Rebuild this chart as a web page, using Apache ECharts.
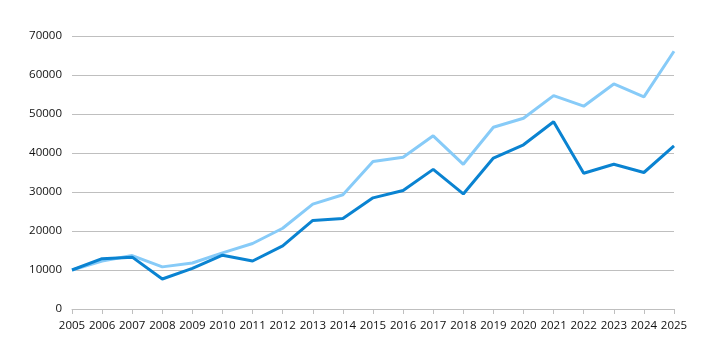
<!DOCTYPE html>
<html><head><meta charset="utf-8">
<script src="https://cdn.jsdelivr.net/npm/echarts@6/dist/echarts.min.js"></script>
<style>html,body{margin:0;padding:0;background:#fff}#c{width:711px;height:357px}</style>
</head><body><div id="c"></div>
<script>
const years = ['2005','2006','2007','2008','2009','2010','2011','2012','2013','2014','2015','2016','2017','2018','2019','2020','2021','2022','2023','2024','2025'];
const seriesDark = [10000,12900,13300,7700,10400,13800,12300,16200,22700,23200,28500,30400,35800,29500,38700,42100,48000,34800,37100,35000,41800];
const seriesLight = [10000,12300,13700,10800,11800,14400,16800,20700,26900,29300,37800,38900,44400,37100,46600,48900,54700,52000,57700,54400,66100];
const yTicks = {min:0,max:70000,interval:10000};

const chart = echarts.init(document.getElementById('c'));
chart.setOption({
  animation:false,
  grid:{left:72,right:37,top:36,bottom:48},
  xAxis:{type:'category',data:years,boundaryGap:false,
    axisLine:{lineStyle:{color:'#bfbfbf',width:1}},
    axisTick:{alignWithLabel:true,length:5,lineStyle:{color:'#bfbfbf'}},
    axisLabel:{interval:0,color:'#111',fontSize:11.5,fontFamily:'Open Sans',margin:11}},
  yAxis:{type:'value',min:yTicks.min,max:yTicks.max,interval:yTicks.interval,
    axisLine:{show:false},axisTick:{show:false},
    splitLine:{lineStyle:{color:'#bfbfbf',width:1}},
    axisLabel:{color:'#111',fontSize:11.5,fontFamily:'Open Sans',margin:10,formatter:v=>String(v)}},
  series:[
    {type:'line',data:seriesLight,symbol:'none',lineStyle:{color:'#87cbf8',width:3},itemStyle:{color:'#87cbf8'}},
    {type:'line',data:seriesDark,symbol:'none',lineStyle:{color:'#0a83d1',width:3},itemStyle:{color:'#0a83d1'}}
  ]
});
</script></body></html>
